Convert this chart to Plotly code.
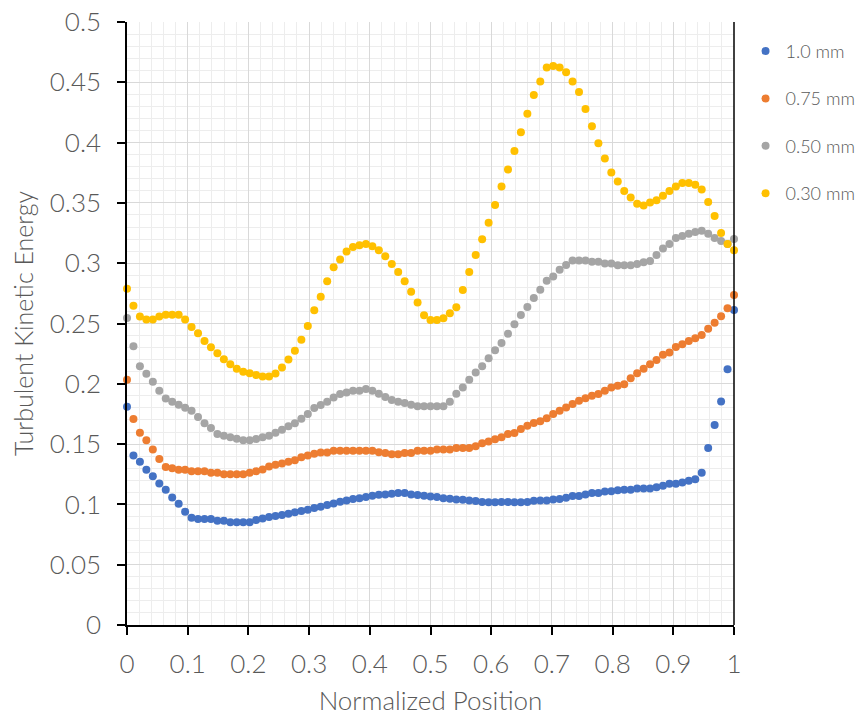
import numpy as np
import plotly.graph_objects as go

n_points = 95
position = np.linspace(0, 1, n_points)

tke_1_0 = [0.181, 0.1405, 0.1353, 0.1287, 0.1234, 0.1174, 0.1121, 0.1058, 0.1006, 0.094,
           0.089, 0.0879, 0.0879, 0.0879, 0.0865, 0.0865, 0.0851, 0.0851, 0.0851, 0.0851,
           0.0870, 0.0884, 0.0895, 0.0903, 0.0912, 0.0923, 0.0934, 0.0945, 0.0956, 0.0970,
           0.0981, 0.0994, 0.1008, 0.1022, 0.1033, 0.1044, 0.1052, 0.1061, 0.1072, 0.1080,
           0.1083, 0.1088, 0.1094, 0.1094, 0.1083, 0.1077, 0.1072, 0.1066, 0.1061, 0.1052,
           0.1047, 0.1041, 0.1039, 0.1033, 0.1028, 0.1019, 0.1017, 0.1017,
           0.1019, 0.1019, 0.1017, 0.1017, 0.1019, 0.1030, 0.1033, 0.1033, 0.1041, 0.1044,
           0.1055, 0.1069, 0.1069, 0.1083, 0.1094, 0.1094, 0.1107, 0.1110, 0.1118, 0.1121,
           0.1121, 0.1132, 0.1132, 0.1132, 0.1143, 0.1154, 0.1171, 0.1171, 0.1182, 0.1196,
           0.1209, 0.1262, 0.1468, 0.1659, 0.1854, 0.2121, 0.2612]

tke_0_75 = [0.2033, 0.1708, 0.1595, 0.1532, 0.1455, 0.1377, 0.1311, 0.1300, 0.1287, 0.1287,
            0.1275, 0.1275, 0.1275, 0.1262, 0.1262, 0.1251, 0.1251, 0.1251, 0.1251, 0.1262,
            0.1275, 0.1289, 0.1314, 0.1328, 0.1339, 0.1353, 0.1366, 0.1391, 0.1405, 0.1419,
            0.1430, 0.1430, 0.1444, 0.1444, 0.1444, 0.1444, 0.1444, 0.1444, 0.1444,
            0.1433, 0.1427, 0.1416, 0.1416, 0.1427, 0.1427, 0.1444, 0.1444, 0.1444, 0.1455,
            0.1455, 0.1455, 0.1468, 0.1468, 0.1468, 0.1482, 0.1507, 0.1521,
            0.154, 0.1556, 0.1584, 0.1592, 0.1625, 0.1653, 0.1675, 0.1689, 0.1714, 0.1749,
            0.1777, 0.1804, 0.1832, 0.1860, 0.1881, 0.1901, 0.1915, 0.1942, 0.1970, 0.1983,
            0.1997, 0.2047, 0.2088, 0.2124, 0.2163, 0.2198, 0.2240, 0.2259, 0.2306, 0.2328,
            0.2355, 0.2378, 0.2405, 0.2457, 0.2507, 0.2560, 0.2626, 0.2736]

tke_0_50 = [0.2545, 0.2311, 0.2146, 0.2083, 0.2017, 0.1942, 0.1879, 0.1851, 0.1826, 0.1802,
            0.1777, 0.1725, 0.1672, 0.1634, 0.1584, 0.1570, 0.1556, 0.1545, 0.1532, 0.1532,
            0.1543, 0.1556, 0.1570, 0.1595, 0.1620, 0.1647, 0.1672, 0.1711, 0.1749, 0.1799,
            0.1824, 0.1851, 0.1887, 0.1915, 0.1928, 0.1942, 0.1942, 0.1956, 0.1942,
            0.1917, 0.1890, 0.1865, 0.1851, 0.1840, 0.1826, 0.1813, 0.1813, 0.1813, 0.1813,
            0.1813, 0.1851, 0.1917, 0.1970, 0.2033, 0.2094, 0.2146, 0.2212,
            0.2278, 0.2339, 0.2416, 0.2493, 0.2570, 0.2636, 0.2711, 0.2780, 0.2854, 0.2890,
            0.2945, 0.2986, 0.3022, 0.3022, 0.3022, 0.3011, 0.3011, 0.2997, 0.2997,
            0.2983, 0.2983, 0.2983, 0.2994, 0.3008, 0.3019, 0.3069, 0.3121, 0.3160, 0.3209,
            0.3226, 0.3245, 0.3259, 0.3270, 0.3245, 0.3209, 0.3184, 0.3160, 0.3201]

tke_0_30 = [0.2788, 0.2647, 0.2559, 0.2534, 0.2534, 0.2559, 0.2573, 0.2573, 0.2573, 0.2534,
            0.2471, 0.2419, 0.2355, 0.2303, 0.2253, 0.2204, 0.2163, 0.2124, 0.2099, 0.2088,
            0.2072, 0.2061, 0.2061, 0.2085, 0.2135, 0.2201, 0.2275, 0.2366, 0.2479, 0.2609,
            0.2722, 0.2851, 0.2967, 0.3030, 0.3097, 0.3135, 0.3149, 0.3160, 0.314,
            0.3107, 0.3058, 0.2994, 0.2928, 0.2851, 0.2763, 0.2675, 0.2568, 0.2529, 0.2529,
            0.2543, 0.2584, 0.2634, 0.2777, 0.2928, 0.3069, 0.3198, 0.3336,
            0.3482, 0.3636, 0.3777, 0.3931, 0.4085, 0.4240, 0.4394, 0.4507, 0.4623, 0.4636,
            0.4623, 0.4584, 0.4507, 0.4419, 0.4278, 0.4135, 0.3994, 0.3868, 0.3752,
            0.3678, 0.3598, 0.3545, 0.3493, 0.3479, 0.3504, 0.3521, 0.3559, 0.3598, 0.3636,
            0.3664, 0.3664, 0.3650, 0.3612, 0.3507, 0.3391, 0.3250, 0.3160, 0.3107]

series_names = ["1.0 mm", "0.75 mm", "0.50 mm", "0.30 mm"]
series_values = [tke_1_0, tke_0_75, tke_0_50, tke_0_30]
series_colors = ["#4472C4", "#ED7D31", "#A5A5A5", "#FFC000"]

FONT = "Lato"
TEXT_COLOR = "#595959"

fig = go.Figure()
for i, (name, vals, col) in enumerate(zip(series_names, series_values, series_colors)):
    fig.add_trace(go.Scatter(
        x=position, y=vals, mode="markers", name=name,
        marker=dict(color=col, size=8, line=dict(width=0)),
        cliponaxis=False, legendgroup=f"g{i}",
    ))

fig.update_layout(
    width=864, height=719,
    margin=dict(l=127, r=130, t=22, b=94, autoexpand=False),
    paper_bgcolor="white", plot_bgcolor="white",
    font=dict(family=FONT, color=TEXT_COLOR, size=26, weight=300),
    showlegend=True,
    legend=dict(
        x=1.019, y=0.982, xanchor="left", yanchor="top",
        font=dict(family=FONT, size=18, color=TEXT_COLOR, weight=300),
        tracegroupgap=21, itemwidth=30, bgcolor="rgba(0,0,0,0)",
    ),
)

fig.update_xaxes(
    range=[0, 1], dtick=0.1, tick0=0, automargin=False,
    showline=True, linecolor="black", linewidth=1.5,
    ticks="outside", ticklen=8, tickcolor="black", tickwidth=1.5,
    ticklabelstandoff=7, ticklabeloverflow="allow",
    showgrid=True, gridcolor="#D9D9D9", gridwidth=1,
    minor=dict(dtick=0.02, showgrid=True, gridcolor="#EDEDED", gridwidth=1),
    zeroline=False,
    tickfont=dict(size=26),
    title=dict(text="Normalized Position", font=dict(size=26), standoff=14),
)
fig.update_yaxes(
    range=[0, 0.5], dtick=0.05, tick0=0, automargin=False,
    showline=True, linecolor="black", linewidth=1.5,
    ticks="outside", ticklen=8, tickcolor="black", tickwidth=1.5,
    ticklabelstandoff=11, ticklabeloverflow="allow",
    showgrid=True, gridcolor="#D9D9D9", gridwidth=1,
    minor=dict(dtick=0.01, showgrid=True, gridcolor="#EDEDED", gridwidth=1),
    zeroline=False,
    tickfont=dict(size=26),
    title=dict(text="Turbulent Kinetic Energy", font=dict(size=25), standoff=9),
)

fig.add_shape(type="line", xref="x domain", yref="y domain",
              x0=1, x1=1, y0=0, y1=1, line=dict(color="black", width=1.5), layer="above")

fig.write_html("out.html", config={"displayModeBar": False},
               post_script="document.body.style.margin='0';")
